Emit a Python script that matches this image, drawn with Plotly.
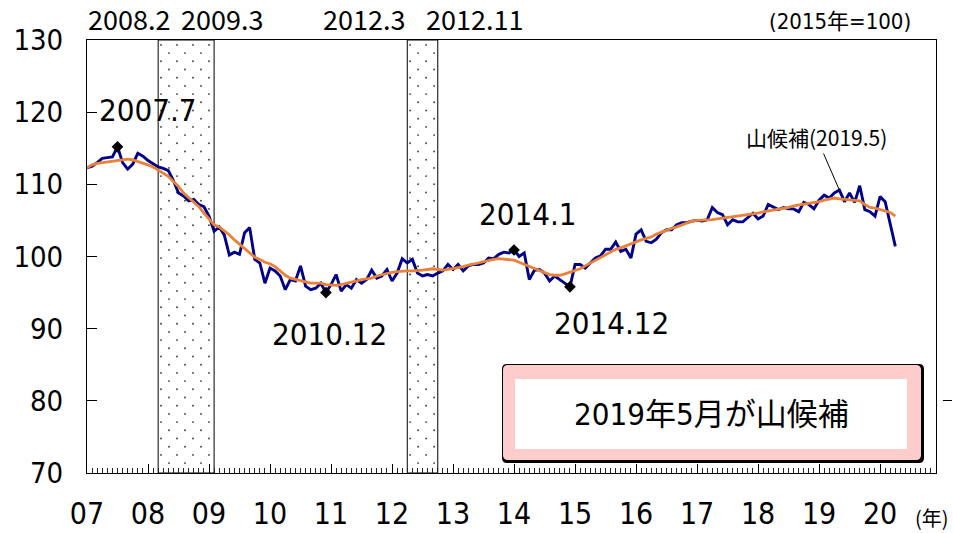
import plotly.graph_objects as go

# ---------------- data ----------------
START_YEAR = 2007  # first month = 2007.1, monthly data

composite = [
    112.3, 112.5, 113.0, 113.6, 113.7, 113.8, 115.2, 113.0, 112.1, 112.8, 114.3, 113.9,   # 2007
    113.3, 112.8, 112.4, 112.2, 111.9, 110.5, 108.8, 108.4, 107.7, 107.9, 107.2, 106.9,   # 2008
    105.6, 103.5, 104.1, 103.0, 100.2, 100.6, 100.3, 103.3, 104.0, 99.6, 99.1, 96.3,      # 2009
    98.4, 98.0, 97.3, 95.4, 96.8, 96.6, 98.7, 95.9, 95.4, 95.6, 96.3, 95.0,               # 2010
    96.1, 97.5, 95.2, 96.1, 95.6, 96.8, 96.3, 96.8, 98.1, 97.0, 97.3, 98.2,               # 2011
    96.6, 97.7, 99.7, 99.1, 99.6, 97.7, 97.3, 97.5, 97.3, 97.7, 98.0, 98.9,               # 2012
    98.2, 98.9, 98.0, 98.7, 98.9, 98.9, 99.1, 99.8, 99.7, 100.3, 100.6, 100.5,            # 2013
    100.9, 100.0, 100.5, 96.8, 98.1, 98.2, 97.7, 96.6, 97.3, 96.8, 96.3, 95.8,            # 2014
    98.9, 98.9, 98.4, 99.1, 99.8, 100.1, 101.0, 101.0, 102.0, 100.7, 101.0, 99.8,         # 2015
    103.1, 103.7, 102.1, 101.9, 102.4, 103.3, 103.7, 103.7, 104.4, 104.7, 104.7, 104.9,   # 2016
    105.0, 104.9, 105.1, 106.8, 106.1, 105.8, 104.4, 105.1, 104.8, 104.8, 105.4, 106.0,   # 2017
    105.2, 105.6, 107.2, 106.8, 106.5, 106.8, 106.6, 106.6, 106.2, 107.5, 107.2, 106.6,   # 2018
    107.8, 108.5, 108.1, 108.8, 109.2, 107.6, 108.8, 107.5, 109.8, 106.5, 106.2, 105.6,   # 2019
    108.3, 107.6, 104.4, 101.4,                                                           # 2020
]

trend = [
    112.3, 112.7, 112.9, 113.0, 113.1, 113.2, 113.3, 113.5, 113.5, 113.4, 113.2, 113.0,
    112.7, 112.4, 112.0, 111.6, 111.1, 110.4, 109.7, 108.8, 108.2, 107.6, 106.9, 106.0,
    105.2, 104.4, 104.1, 103.6, 103.0, 102.3, 101.7, 101.1, 100.5, 99.9, 99.6, 99.2,
    99.0, 98.6, 98.0, 97.4, 97.0, 96.8, 96.6, 96.5, 96.3, 96.3, 96.3, 96.1,
    96.0, 96.0, 96.1, 96.3, 96.5, 96.6, 96.8, 96.9, 97.0, 97.3, 97.5, 97.7,
    97.8, 97.9, 98.0, 98.0, 98.0, 98.0, 98.1, 98.2, 98.3, 98.2, 98.1, 98.2,
    98.3, 98.4, 98.6, 98.8, 98.9, 99.1, 99.3, 99.5, 99.6, 99.7, 99.6, 99.5,
    99.5, 99.2, 98.9, 98.6, 98.3, 98.1, 97.8, 97.5, 97.4, 97.4, 97.6, 97.8,
    98.0, 98.3, 98.7, 99.1, 99.4, 99.8, 100.2, 100.7, 101.0, 101.2, 101.5, 101.8,
    102.0, 102.3, 102.5, 102.7, 103.1, 103.4, 103.6, 103.9, 104.1, 104.4, 104.7, 104.9,
    105.0, 105.0, 105.1, 105.1, 105.2, 105.3, 105.4, 105.4, 105.5, 105.6, 105.7, 105.8,
    106.0, 106.2, 106.3, 106.5, 106.6, 106.7, 106.8, 107.0, 107.1, 107.2, 107.3, 107.5,
    107.6, 107.8, 108.0, 108.1, 108.0, 107.9, 107.8, 107.8, 107.7, 107.2, 106.8, 106.7,
    106.5, 106.3, 106.1, 105.6,
]

recession_peaks = ["2008.2", "2012.3"]
recession_troughs = ["2009.3", "2012.11"]
turning_points = ["2007.7", "2010.12", "2014.1", "2014.12"]
peak_candidate = "2019.5"

year_ticks = list(range(2007, 2021))
year_labels = ["07", "08", "09", "10", "11", "12", "13", "14", "15", "16", "17", "18", "19", "20"]
y_ticks = [70, 80, 90, 100, 110, 120, 130]

base_note = "(2015年=100)"
box_text = "2019年5月が山候補"
candidate_label = "山候補(2019.5)"
x_unit = "(年)"

# ---------------- helpers ----------------
def ym(s):
    y, m = s.split(".")
    return int(y) + (int(m) - 1) / 12

def idx(s):
    y, m = s.split(".")
    return (int(y) - START_YEAR) * 12 + int(m) - 1

months = [START_YEAR + i / 12 for i in range(len(composite))]
Y_MIN, Y_MAX = 70, 130
X_MIN, X_MAX = 2007, 2007 + 167 / 12

W, H = 953, 533
ML, MR, MT, MB = 87, 0, 40, 60
PW, PH = W - ML - MR, H - MT - MB
PLOT_W = 849  # pixel width of the framed area

def px(p):
    return (p - ML) / PW

def py(p):
    return (H - MB - p) / PH

NUM_FONT = "Liberation Sans Narrow, DejaVu Sans Condensed, Noto Sans CJK JP, sans-serif"
JP_FONT = "Noto Sans CJK JP, sans-serif"

fig = go.Figure()

# recession periods
shade_start = [ym(s) + 1 / 12 for s in recession_peaks]
shade_end = [ym(s) - 1 / 12 for s in recession_troughs]

# dotted texture: staggered grid, ~8 px step
x_per_px = (X_MAX - X_MIN) / PLOT_W
y_per_px = (Y_MAX - Y_MIN) / (H - MT - MB)
dot_x, dot_y = [], []
for a, b in zip(shade_start, shade_end):
    step_x = 8 * x_per_px
    step_y = 8.2 * y_per_px
    r = 0
    yv = Y_MAX - 0.6 * step_y
    while yv > Y_MIN + 0.3 * step_y:
        xv = a + (0.35 + (r % 2)) * step_x
        while xv < b - 0.3 * step_x:
            dot_x.append(xv)
            dot_y.append(yv)
            xv += 2 * step_x
        yv -= step_y
        r += 1
fig.add_trace(go.Scatter(x=dot_x, y=dot_y, mode="markers", hoverinfo="skip",
                         marker=dict(color="#444444", size=1.9, line=dict(width=0))))

fig.add_trace(go.Scatter(x=months, y=composite, mode="lines",
                         line=dict(color="#000088", width=2.9)))
fig.add_trace(go.Scatter(x=months, y=trend, mode="lines",
                         line=dict(color="#E8823A", width=2.8)))

tp_x = [ym(s) for s in turning_points]
tp_y = [composite[idx(s)] for s in turning_points]
fig.add_trace(go.Scatter(x=tp_x, y=tp_y, mode="markers",
                         marker=dict(symbol="diamond", color="black", size=9)))

fig.add_trace(go.Scatter(x=[], y=[], yaxis="y2"))

annotations = []
tp_shift = [(30, 37), (4, -41), (14, 36), (42, -36)]
for s, xv, yv, (dx, dy) in zip(turning_points, tp_x, tp_y, tp_shift):
    annotations.append(dict(x=xv, y=yv, xref="x", yref="y", text=s, showarrow=False,
                            xanchor="center", yanchor="middle",
                            xshift=dx, yshift=dy, font=dict(family=NUM_FONT, size=31, color="black")))

top_shift = [-29, 8, -43, 37]
edges = [shade_start[0], shade_end[0], shade_start[1], shade_end[1]]
texts = [recession_peaks[0], recession_troughs[0], recession_peaks[1], recession_troughs[1]]
for t, e, dx in zip(texts, edges, top_shift):
    annotations.append(dict(x=e, y=py(19), xref="x", yref="paper", text=t, showarrow=False,
                            xshift=dx, xanchor="center", yanchor="middle",
                            font=dict(family=JP_FONT, size=27, color="black")))

annotations.append(dict(x=ym(peak_candidate), y=composite[idx(peak_candidate)], xref="x", yref="y",
                        text=candidate_label, showarrow=True, arrowhead=0, arrowwidth=1,
                        arrowcolor="black", ax=-23, ay=-53, standoff=0,
                        font=dict(family=JP_FONT, size=21, color="black")))

annotations.append(dict(x=px(840), y=py(22), xref="paper", yref="paper", text=base_note,
                        xanchor="center", yanchor="middle", showarrow=False,
                        font=dict(family=NUM_FONT, size=22, color="black")))
annotations.append(dict(x=px(711), y=py(414), xref="paper", yref="paper", text=box_text,
                        xanchor="center", yanchor="middle", showarrow=False,
                        font=dict(family=NUM_FONT, size=31, color="black")))
annotations.append(dict(x=px(913), y=py(517), xref="paper", yref="paper", text=x_unit,
                        xanchor="left", yanchor="middle", showarrow=False,
                        font=dict(family=JP_FONT, size=20, color="black")))


def rrect(x0, y0, x1, y1, r):
    pts = [
        ("M", [(x0 + r, y0)]), ("L", [(x1 - r, y0)]), ("Q", [(x1, y0), (x1, y0 + r)]),
        ("L", [(x1, y1 - r)]), ("Q", [(x1, y1), (x1 - r, y1)]), ("L", [(x0 + r, y1)]),
        ("Q", [(x0, y1), (x0, y1 - r)]), ("L", [(x0, y0 + r)]), ("Q", [(x0, y0), (x0 + r, y0)]),
    ]
    out = ""
    for cmd, ps in pts:
        out += cmd + " " + " ".join(f"{px(a):.5f},{py(b):.5f}" for a, b in ps) + " "
    return out + "Z"

shapes = []
for a, b in zip(shade_start, shade_end):
    shapes.append(dict(type="rect", xref="x", yref="y", x0=a, x1=b, y0=Y_MIN, y1=Y_MAX,
                       fillcolor="white", line=dict(color="black", width=1), layer="below"))
shapes += [
    dict(type="path", xref="paper", yref="paper", path=rrect(502, 364, 924, 463, 5),
         fillcolor="black", line=dict(width=0)),
    dict(type="path", xref="paper", yref="paper", path=rrect(503, 365, 921, 460, 5),
         fillcolor="#FFCCCC", line=dict(width=0)),
    dict(type="rect", xref="paper", yref="paper", x0=px(515), x1=px(907), y0=py(449), y1=py(379),
         fillcolor="white", line=dict(width=0)),
]

fig.update_layout(
    width=W, height=H,
    margin=dict(l=ML, r=MR, t=MT, b=MB, pad=0, autoexpand=False),
    paper_bgcolor="white", plot_bgcolor="white",
    showlegend=False,
    annotations=annotations, shapes=shapes,
    xaxis=dict(domain=[0, PLOT_W / PW], range=[X_MIN, X_MAX], tickmode="array",
               tickvals=year_ticks, ticktext=year_labels, ticks="inside", ticklen=9,
               tickcolor="black", tickwidth=1, showline=True, mirror=True, linecolor="black",
               linewidth=1, showgrid=False, zeroline=False, ticklabelstandoff=14,
               automargin=False,
               tickfont=dict(family=NUM_FONT, size=30, color="black"),
               minor=dict(tickmode="linear", tick0=START_YEAR, dtick=1 / 12, ticks="inside",
                          ticklen=5, tickcolor="#222222", tickwidth=1, showgrid=False)),
    yaxis=dict(range=[Y_MIN, Y_MAX], tickmode="array", tickvals=y_ticks, ticks="inside",
               ticklen=10, tickcolor="black", showline=True, mirror=True, linecolor="black",
               linewidth=1, showgrid=False, zeroline=False, ticklabelstandoff=17,
               automargin=False,
               tickfont=dict(family=NUM_FONT, size=29, color="black")),
    yaxis2=dict(overlaying="y", anchor="free", position=(952 - ML) / PW, side="right",
                range=[Y_MIN, Y_MAX], tickmode="array", tickvals=[70, 80], ticks="inside",
                ticklen=9, tickcolor="black", showticklabels=False, showline=False,
                showgrid=False, zeroline=False, automargin=False),
)

fig.write_html("out.html", config={"displayModeBar": False},
               post_script="document.body.style.margin='0';document.body.style.padding='0';")
